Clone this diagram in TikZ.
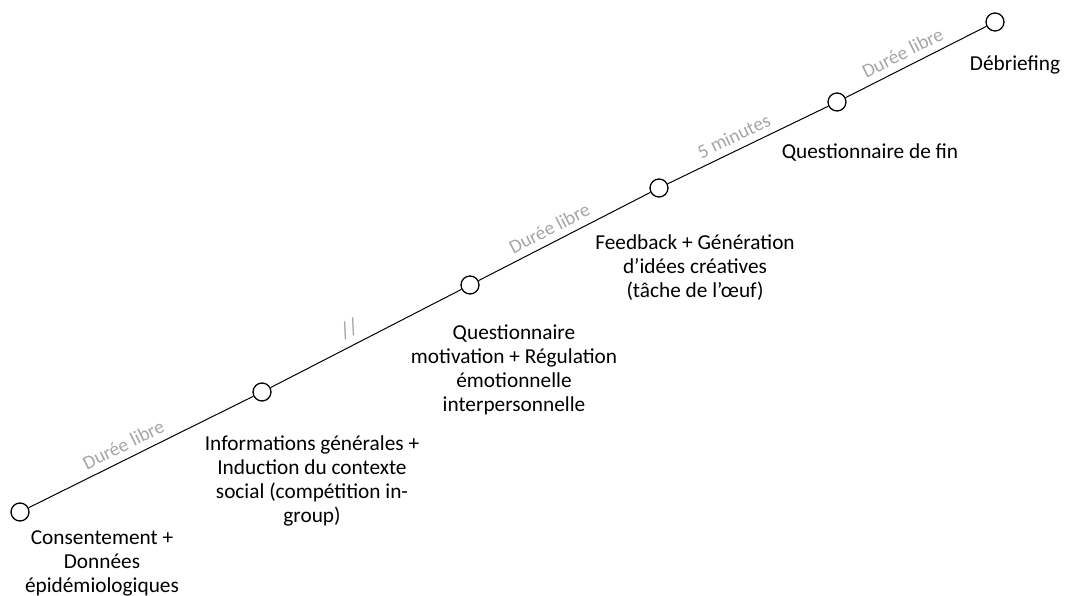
\documentclass[tikz,border=0pt]{standalone}
\usepackage{fontspec}
\setmainfont{Carlito}
\usepackage{xcolor}
\usepackage{tikz}
\usetikzlibrary{positioning}
\definecolor{dureecolor}{HTML}{A6A6A6}
\tikzset{
  etape/.style={circle,draw=black,fill=white,line width=1.3pt,minimum size=18pt,inner sep=0pt},
  legende/.style={align=center,font=\fontsize{21.3}{24}\selectfont,inner sep=0pt},
  duree/.style={sloped,above=7pt,pos=0.45,text=dureecolor,font=\fontsize{19.5}{21}\selectfont,inner sep=0pt}
}

\begin{document}
\begin{tikzpicture}[x=1pt,y=1pt]
\useasboundingbox (0,0) rectangle (1065,596);
% etapes
\node[etape] (c1) at (20,84) {};
\node[etape] (c2) at (262,204) {};
\node[etape] (c3) at (470,311) {};
\node[etape] (c4) at (659,408) {};
\node[etape] (c5) at (837,494) {};
\node[etape] (c6) at (995,574) {};
% ligne du temps
\draw[line width=1pt] (c1) -- (c2) node[duree] {Durée libre};
\draw[line width=1pt] (c2) -- (c3) node[duree,font=\fontsize{23}{24}\selectfont] {//};
\draw[line width=1pt] (c3) -- (c4) node[duree] {Durée libre};
\draw[line width=1pt] (c4) -- (c5) node[duree] {5 minutes};
\draw[line width=1pt] (c5) -- (c6) node[duree] {Durée libre};
% legendes
\node[legende] (l1) at (102,33) {Consentement +\\Données\\épidémiologiques};
\node[legende] (l2) at (312,115) {Informations générales +\\Induction du contexte\\social (compétition in-\\group)};
\node[legende] (l3) at (514,226) {Questionnaire\\motivation + Régulation\\émotionnelle\\interpersonnelle};
\node[legende] (l4) at (695,328) {Feedback + Génération\\d’idées créatives\\(tâche de l’\oe uf)};
\node[legende] (l5) at (870,443) {Questionnaire de fin};
\node[legende] (l6) at (1015,531) {Débriefing};
\end{tikzpicture}
\end{document}
